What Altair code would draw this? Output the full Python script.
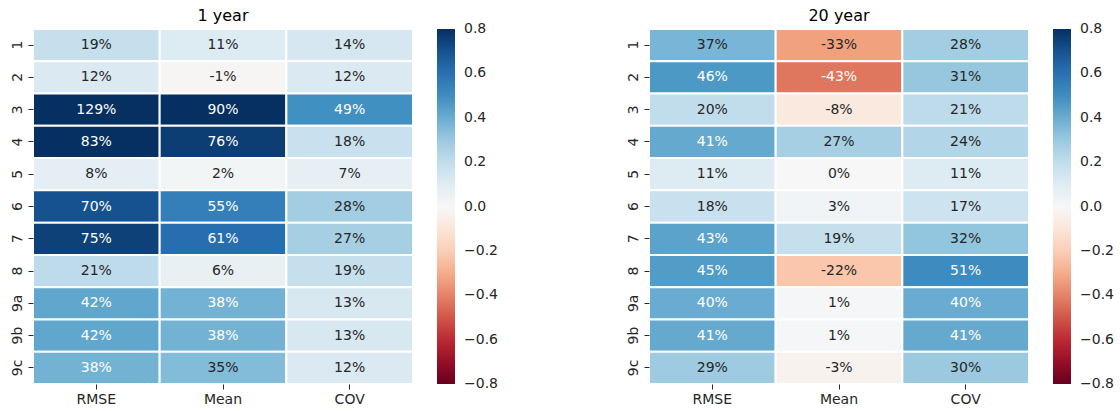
import altair as alt
import pandas as pd

rows = ["1", "2", "3", "4", "5", "6", "7", "8", "9a", "9b", "9c"]
metrics = ["RMSE", "Mean", "COV"]

# values in percent
y1_rmse = [19, 12, 129, 83, 8, 70, 75, 21, 42, 42, 38]
y1_mean = [11, -1, 90, 76, 2, 55, 61, 6, 38, 38, 35]
y1_cov = [14, 12, 49, 18, 7, 28, 27, 19, 13, 13, 12]

y20_rmse = [37, 46, 20, 41, 11, 18, 43, 45, 40, 41, 29]
y20_mean = [-33, -43, -8, 27, 0, 3, 19, -22, 1, 1, -3]
y20_cov = [28, 31, 21, 24, 11, 17, 32, 51, 40, 41, 30]

legend_ticks = [0.8, 0.6, 0.4, 0.2, 0.0, -0.2, -0.4, -0.6, -0.8]

# RdBu colour stops (ColorBrewer 11-class), spread evenly over [-0.8, 0.8]
# (ends nudged by a hair so the end labels of the colour bar stay centred on their ticks)
rdbu = ["#67001f", "#b2182b", "#d6604d", "#f4a582", "#fddbc7", "#f7f7f7",
        "#d1e5f0", "#92c5de", "#4393c3", "#2166ac", "#053061"]
stops = [-0.80001, -0.64, -0.48, -0.32, -0.16, 0.0, 0.16, 0.32, 0.48, 0.64, 0.80001]

FONT = "DejaVu Sans"
FS = 14


def make_df(rmse, mean, cov):
    recs = []
    for i, r in enumerate(rows):
        for m, arr in zip(metrics, [rmse, mean, cov]):
            v = arr[i]
            recs.append({"row": r, "metric": m, "value": v / 100.0, "label": f"{v}%"})
    return pd.DataFrame(recs)


def heat(df, title):
    base = alt.Chart(df).encode(
        x=alt.X(
            "metric:N",
            sort=metrics,
            title=None,
            scale=alt.Scale(paddingInner=0, paddingOuter=0),
            axis=alt.Axis(labelAngle=0, domain=False, tickSize=5, tickColor="#262626",
                          labelColor="#262626", labelFontSize=FS, labelFont=FONT, labelPadding=3),
        ),
        y=alt.Y(
            "row:N",
            sort=rows,
            title=None,
            scale=alt.Scale(paddingInner=0, paddingOuter=0),
            axis=alt.Axis(labelAngle=270, labelAlign="center", labelBaseline="bottom", domain=False,
                          tickSize=5, tickColor="#262626", labelColor="#262626", labelFontSize=FS,
                          labelFont=FONT, labelPadding=4),
        ),
    )
    rect = base.mark_rect(stroke="white", strokeWidth=2).encode(
        color=alt.Color(
            "value:Q",
            scale=alt.Scale(domain=stops, range=rdbu, interpolate="rgb", clamp=True),
            legend=alt.Legend(
                title=None,
                orient="right",
                offset=24,
                padding=0,
                gradientLength=355,
                gradientThickness=18,
                gradientStrokeWidth=0,
                values=legend_ticks,
                format=".1f",
                labelFontSize=FS,
                labelFont=FONT,
                labelColor="#262626",
                labelOffset=9,
                labelOverlap=False,
            ),
        )
    )
    text = base.mark_text(fontSize=FS, font=FONT).encode(
        text="label:N",
        color=alt.condition(
            (alt.datum.value > 0.375) | (alt.datum.value < -0.38),
            alt.value("white"),
            alt.value("#262626"),
        ),
    )
    return alt.layer(rect, text).properties(
        width=380,
        height=355,
        title=alt.TitleParams(title, fontSize=16, font=FONT, fontWeight="normal", color="black", offset=4),
    )


c1 = heat(make_df(y1_rmse, y1_mean, y1_cov), "1 year")
c2 = heat(make_df(y20_rmse, y20_mean, y20_cov), "20 year")

chart = (
    alt.hconcat(c1, c2, spacing=127)
    .resolve_scale(color="independent")
    .properties(padding={"left": 9, "top": 8, "right": 5, "bottom": 5})
    .configure_view(stroke=None)
)

chart.save("out.html", embed_options={"renderer": "svg", "actions": False})
